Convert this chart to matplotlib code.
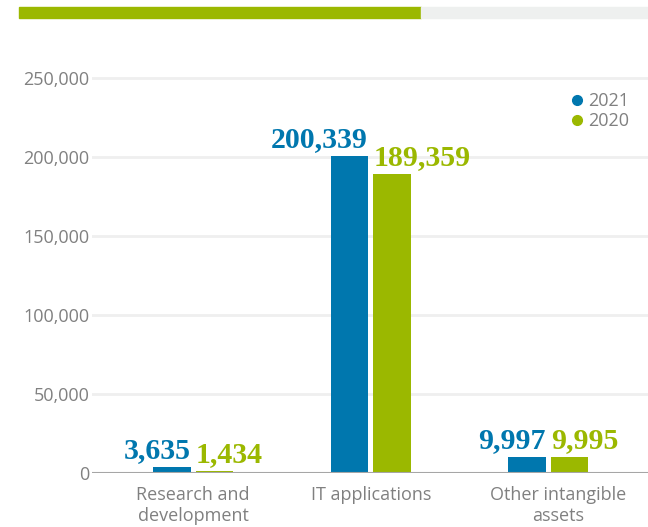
import matplotlib
matplotlib.use("Agg")
import matplotlib.pyplot as plt
import matplotlib.transforms as mtransforms
from matplotlib.lines import Line2D
from matplotlib.patches import Rectangle
import numpy as np

categories = ["Research and\ndevelopment", "IT applications", "Other intangible\nassets"]
values_2021 = [3635, 200339, 9997]
values_2020 = [1434, 189359, 9995]
series_names = ["2021", "2020"]
yticks = [0, 50000, 100000, 150000, 200000, 250000]

BLUE = "#0077AE"
GREEN = "#9BB800"
GREY_TXT = "#808080"

W, H = 648, 527
fig = plt.figure(figsize=(W / 100, H / 100), dpi=100)

# top progress bar decoration
fig.patches.append(Rectangle((19 / W, 1 - 18 / H), (421 - 19) / W, 11 / H,
                             transform=fig.transFigure, color=GREEN, zorder=1))
fig.patches.append(Rectangle((421 / W, 1 - 18 / H), (648 - 421) / W, 11 / H,
                             transform=fig.transFigure, color="#EEF0EF", zorder=1))

ymax = 260000
top_px = 473 - 395 * ymax / 250000
ax = fig.add_axes([92 / W, 1 - 473 / H, 556 / W, (473 - top_px) / H])

x = np.arange(len(categories))
off = 0.12
bw = 0.21
ax.bar(x - off, values_2021, bw, color=BLUE, zorder=3)
ax.bar(x + off, values_2020, bw, color=GREEN, zorder=3)

lab_kw = dict(textcoords="offset points", va="baseline", fontsize=21.5,
              fontweight="bold", family="Liberation Serif", zorder=4)
for xi, v in zip(x, values_2021):
    ax.annotate(f"{v:,}", (xi - off + bw / 2, v), xytext=(0, 6.5), ha="right", color=BLUE, **lab_kw)
for xi, v in zip(x, values_2020):
    ax.annotate(f"{v:,}", (xi + off - bw / 2, v), xytext=(0, 6.5), ha="left", color=GREEN, **lab_kw)

ax.set_xlim(-(193.2 - 92) / 177.5, (648 - 193.2) / 177.5)
ax.set_ylim(0, ymax)
ax.set_yticks(yticks)
ax.set_yticklabels([f"{t:,}" for t in yticks])
ax.set_xticks(x)
ax.set_xticklabels(categories, linespacing=1.25)
ax.tick_params(axis="both", length=0, labelsize=13, labelcolor=GREY_TXT)
ax.tick_params(axis="y", pad=2)
ax.tick_params(axis="x", pad=9)
for lab in ax.get_xticklabels() + ax.get_yticklabels():
    lab.set_family("Open Sans")
# nudge the last category label slightly right as in the reference
lab3 = ax.get_xticklabels()[2]
lab3.set_transform(lab3.get_transform() + mtransforms.ScaledTranslation(10 / 100, 0, fig.dpi_scale_trans))

ax.yaxis.grid(True, color="#EFEFEF", linewidth=2, zorder=0)
ax.set_axisbelow(True)
for s in ax.spines.values():
    s.set_visible(False)
ax.axhline(0, color="#A6A6A6", linewidth=1.5, zorder=5)

handles = [Line2D([], [], marker="o", linestyle="", markersize=7, color=c) for c in (BLUE, GREEN)]
leg = fig.legend(handles, series_names, loc="upper left", bbox_to_anchor=(570 / W, 1 - 92 / H),
                 frameon=False, handlelength=0.8, handletextpad=0.2, labelspacing=0.12,
                 borderpad=0, borderaxespad=0, prop={"family": "Open Sans", "size": 13})
for t in leg.get_texts():
    t.set_color(GREY_TXT)

fig.savefig("out.png", dpi=100, facecolor="white")
